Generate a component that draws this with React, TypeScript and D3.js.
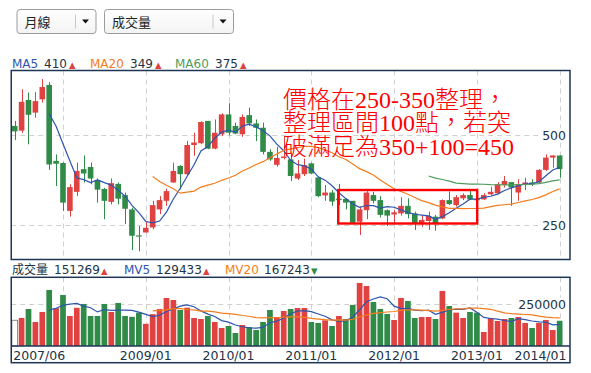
import React from 'react';
import * as d3 from 'd3';

// monthly candles 2007/06 .. 2014/01
const months = d3.timeMonth.range(new Date(2007, 5, 1), new Date(2014, 1, 1));

const open = [526, 513, 598, 563, 600, 640, 429, 423, 290, 343,
  406, 412, 376, 351, 315, 365, 334, 294, 222, 230,
  244, 294, 318, 369, 415, 392, 473, 478, 540, 463,
  503, 558, 526, 503, 556, 533, 521, 454, 418, 437,
  433, 380, 392, 422, 383, 333, 341, 324, 323, 318,
  260, 292, 334, 320, 292, 280, 283, 304, 283, 255,
  262, 274, 269, 320, 306, 325, 334, 323, 322, 336,
  339, 362, 370, 341, 364, 369, 369, 404, 438, 444];
const high = [540, 628, 619, 620, 656, 648, 447, 425, 364, 424,
  444, 424, 380, 354, 380, 369, 341, 299, 248, 261,
  318, 331, 352, 424, 417, 484, 507, 539, 540, 544,
  561, 589, 535, 558, 577, 544, 535, 461, 468, 496,
  452, 431, 435, 424, 383, 362, 348, 365, 325, 318,
  302, 346, 343, 331, 294, 292, 328, 325, 288, 276,
  288, 279, 322, 344, 334, 339, 350, 327, 339, 357,
  370, 387, 370, 378, 382, 378, 406, 447, 444, 444];
const low = [487, 507, 475, 549, 591, 404, 359, 290, 274, 331,
  369, 364, 313, 267, 308, 308, 253, 181, 178, 230,
  239, 281, 304, 368, 350, 387, 443, 475, 461, 461,
  498, 500, 503, 496, 526, 484, 447, 429, 413, 433,
  373, 376, 387, 392, 328, 318, 304, 306, 294, 255,
  223, 267, 311, 272, 248, 255, 277, 269, 237, 246,
  237, 235, 267, 306, 302, 320, 320, 316, 320, 333,
  336, 355, 304, 318, 348, 359, 367, 401, 410, 382];
const close = [511, 593, 557, 595, 634, 419, 421, 313, 356, 401,
  394, 380, 349, 318, 367, 324, 296, 221, 219, 243,
  306, 320, 345, 401, 392, 473, 480, 537, 463, 507,
  558, 507, 505, 551, 533, 521, 454, 433, 437, 441,
  387, 394, 417, 394, 331, 341, 316, 320, 313, 257,
  294, 341, 318, 279, 277, 286, 304, 281, 255, 265,
  276, 255, 320, 309, 328, 334, 322, 320, 334, 343,
  364, 373, 355, 364, 369, 364, 404, 438, 444, 406];
const volume = [154000, 168000, 222000, 144000, 204000, 336000, 227000, 306000, 180000, 229000,
  252000, 180000, 180000, 252000, 204000, 258000, 180000, 175000, 200000, 133000,
  191000, 222000, 288000, 276000, 216000, 230000, 168000, 162000, 180000, 144000,
  108000, 120000, 78000, 126000, 114000, 96000, 144000, 216000, 174000, 210000,
  222000, 228000, 228000, 144000, 138000, 154000, 120000, 180000, 162000, 246000,
  378000, 360000, 264000, 222000, 192000, 156000, 288000, 270000, 168000, 174000,
  174000, 162000, 330000, 240000, 200000, 168000, 204000, 200000, 84000, 168000,
  150000, 162000, 168000, 174000, 138000, 108000, 138000, 156000, 96000, 151269];

const xTickLabels = ['2007/06', '2009/01', '2010/01', '2011/01', '2012/01', '2013/01', '2014/01'];
const gridMonths = ['2008/01', '2009/01', '2010/01', '2011/01', '2012/01', '2013/01', '2014/01'];
const priceTicks = [250, 500];
const volumeTicks = [250000];

const maPeriods = [5, 20, 60];
const maNames = ['MA5', 'MA20', 'MA60'];
const maValues = ['410', '349', '375'];
const mvPeriods = [5, 20];
const volNames = ['成交量', 'MV5', 'MV20'];
const volValues = ['151269', '129433', '167243'];
const volDir = ['up', 'up', 'down'];

// consolidation zone + note (data units)
const zone = { from: 46.9, to: 67.05, low: 255, high: 348 };
const noteLines = ['價格在250-350整理，', '整理區間100點，若突', '破滿足為350+100=450'];
const noteAt = { index: 38.9, price: 576 };

const RED = '#e04141';
const GREEN = '#2f8b47';
const BLUE = '#2d55ad';
const ORANGE = '#f47c1c';
const MA60C = '#4f9c5c';
const NAVY = '#1f3556';
const TXT = '#223344';
const maColors = [BLUE, ORANGE, MA60C];
const FONT = '"DejaVu Sans", "Noto Sans CJK TC", sans-serif';
const NOTE_FONT = '"Liberation Serif", "Noto Sans CJK TC", serif';

const fmt = d3.timeFormat('%Y/%m');

function movingAvg(arr: number[], k: number) {
  return arr.map((_, i) => (i >= k ? (d3.mean(arr.slice(i - k + 1, i + 1)) as number) : null));
}

function Dropdown({ x, w, label }: { x: number; w: number; label: string }) {
  const y = 9.5, h = 24;
  return (
    <g>
      <rect x={x + 0.5} y={y} width={w} height={h} rx={3} fill="url(#ddg)" stroke="#9c9c9c" />
      <text x={x + 8} y={y + 17} fontSize={13} fill="#222" fontFamily={FONT}>{label}</text>
      <line x1={x + w - 20} x2={x + w - 20} y1={y + 5} y2={y + h - 5} stroke="#c8c8c8" />
      <path d={`M${x + w - 13.5},${y + 10}h7l-3.5,4z`} fill="#111" />
    </g>
  );
}

export default function App() {
  const n = close.length;
  const L = 11.25, R = 570;
  const pTop = 70.5, pBot = 259.5;
  const vTop = 277.3, vBase = 346, vBot = 362.7;

  const x = d3.scaleLinear().domain([-0.5, n + 0.5]).range([L, R]);
  const yP = d3.scaleLinear().domain([250, 500]).range([225.3, 135.3]);
  const yV = d3.scaleLinear().domain([0, 250000]).range([vBase, 304.3]);

  const idx = (m: string) => months.findIndex(d => fmt(d) === m);

  const priceLine = d3.line<number | null>()
    .defined(d => d != null)
    .x((_, i) => x(i))
    .y(d => yP(d as number));
  const volLine = d3.line<number | null>()
    .defined(d => d != null)
    .x((_, i) => x(i))
    .y(d => yV(d as number));

  const bw = 5.6;
  const labelW = (s: string) => s.length * 7.6;

  return (
    <svg width={591} height={373} style={{ position: 'absolute', left: 0, top: 0, background: '#fff' }}>
      <defs>
        <linearGradient id="ddg" x1="0" y1="0" x2="0" y2="1">
          <stop offset="0" stopColor="#ffffff" />
          <stop offset="1" stopColor="#f3f3f3" />
        </linearGradient>
      </defs>

      <Dropdown x={16.5} w={79} label="月線" />
      <Dropdown x={104} w={129} label="成交量" />

      {/* price legend */}
      <g fontFamily={FONT} fontSize={12}>
        {maNames.map((nm, k) => {
          const x0 = [12, 90, 175][k];
          return (
            <g key={nm}>
              <text x={x0} y={67.5} fill={maColors[k]}>{nm}</text>
              <text x={x0 + nm.length * 8 + 8} y={67.5} fill={TXT}>{maValues[k]}</text>
              <text x={x0 + nm.length * 8 + 33} y={67.5} fill={RED} fontSize={8.5}>▲</text>
            </g>
          );
        })}
      </g>

      {/* grid */}
      <g stroke="#d0d0d0" strokeDasharray="5,4">
        {gridMonths.map(m => (
          <g key={m}>
            <line x1={Math.round(x(idx(m))) + 0.5} x2={Math.round(x(idx(m))) + 0.5} y1={pTop} y2={pBot} />
            <line x1={Math.round(x(idx(m))) + 0.5} x2={Math.round(x(idx(m))) + 0.5} y1={vTop} y2={vBase} />
          </g>
        ))}
        {priceTicks.map(t => (
          <line key={t} x1={L} x2={R} y1={Math.round(yP(t)) + 0.5} y2={Math.round(yP(t)) + 0.5} />
        ))}
        {volumeTicks.map(t => (
          <line key={t} x1={L} x2={R} y1={Math.round(yV(t)) + 0.5} y2={Math.round(yV(t)) + 0.5} />
        ))}
      </g>

      {/* axis labels with white backing */}
      <g fontFamily={FONT} fontSize={12.5} fill={TXT}>
        {priceTicks.map(t => (
          <g key={t}>
            <rect x={566 - labelW(String(t)) - 5} y={yP(t) - 7} width={labelW(String(t)) + 7} height={14} fill="#fff" />
            <text x={566} y={yP(t)} dy="0.36em" textAnchor="end">{t}</text>
          </g>
        ))}
        {volumeTicks.map(t => (
          <g key={t}>
            <rect x={566 - labelW(String(t)) - 5} y={yV(t) - 7} width={labelW(String(t)) + 7} height={14} fill="#fff" />
            <text x={566} y={yV(t)} dy="0.36em" textAnchor="end">{t}</text>
          </g>
        ))}
      </g>

      {/* candles */}
      {close.map((c, i) => {
        const o = open[i];
        const col = c >= o ? RED : GREEN;
        const cx = x(i);
        const top = yP(Math.max(o, c));
        const bot = yP(Math.min(o, c));
        const wx = Math.round(cx) + 0.5;
        return (
          <g key={i}>
            <line x1={wx} x2={wx} y1={yP(high[i])} y2={yP(low[i])} stroke={col} />
            <rect x={cx - bw / 2} y={top} width={bw} height={Math.max(1.2, bot - top)} fill={col} />
          </g>
        );
      })}

      {/* moving averages */}
      {maPeriods.map((p, k) => (
        <path key={p} d={priceLine(movingAvg(close, p)) || ''} fill="none" stroke={maColors[k]} strokeWidth={1.2} />
      ))}

      {/* consolidation box */}
      <rect x={x(zone.from)} y={yP(zone.high)} width={x(zone.to) - x(zone.from)} height={yP(zone.low) - yP(zone.high)}
        fill="none" stroke="#ff0000" strokeWidth={2.4} />

      <g fontSize={24} fill="#ff0000" fontFamily={NOTE_FONT} fontWeight={300}>
        {noteLines.map((t, k) => (
          <text key={k} x={x(noteAt.index)} y={yP(noteAt.price) + k * 23.5}>{t}</text>
        ))}
      </g>

      {/* volume legend */}
      <g fontFamily={FONT} fontSize={12}>
        {volNames.map((nm, k) => {
          const x0 = [12, 124, 225][k];
          const vx = [54, 156, 264][k];
          return (
            <g key={nm}>
              <text x={x0} y={273.5} fill={k === 0 ? TXT : maColors[k - 1]}>{nm}</text>
              <text x={vx} y={273.5} fill={TXT}>{volValues[k]}</text>
              <text x={vx + volValues[k].length * 7.65 + 1} y={273.5} fill={volDir[k] === 'up' ? RED : GREEN} fontSize={8.5}>
                {volDir[k] === 'up' ? '▲' : '▼'}
              </text>
            </g>
          );
        })}
      </g>

      {/* volume bars */}
      {volume.map((v, i) => {
        const first = i === 0;
        const col = first ? '#fff' : close[i] >= close[i - 1] ? RED : GREEN;
        const bx = x(i) - 2.85;
        return (
          <rect key={i} x={bx} y={yV(v)} width={5.7} height={vBase - yV(v)} fill={col}
            stroke={first ? '#8a8a8a' : 'none'} strokeWidth={first ? 1 : 0} />
        );
      })}
      {mvPeriods.map((p, k) => (
        <path key={p} d={volLine(movingAvg(volume, p)) || ''} fill="none" stroke={maColors[k]} strokeWidth={1.2} />
      ))}

      {/* frames */}
      <rect x={L} y={pTop} width={R - L} height={pBot - pTop} fill="none" stroke={NAVY} strokeWidth={1.5} />
      <rect x={L} y={vTop} width={R - L} height={vBot - vTop} fill="none" stroke={NAVY} strokeWidth={1.5} />
      <line x1={L} x2={R} y1={vBase} y2={vBase} stroke={NAVY} strokeWidth={1.5} />

      {/* x labels */}
      <g fontFamily={FONT} fontSize={12.5} fill={TXT}>
        {xTickLabels.map(lb => {
          const cx = x(idx(lb));
          const w = labelW(lb);
          let anchor: 'start' | 'middle' | 'end' = 'middle';
          let tx = cx;
          if (cx - w / 2 < L + 2) { anchor = 'start'; tx = L + 2; }
          else if (cx + w / 2 > R - 3) { anchor = 'end'; tx = R - 3.5; }
          return <text key={lb} x={tx} y={359.5} textAnchor={anchor}>{lb}</text>;
        })}
      </g>
    </svg>
  );
}
